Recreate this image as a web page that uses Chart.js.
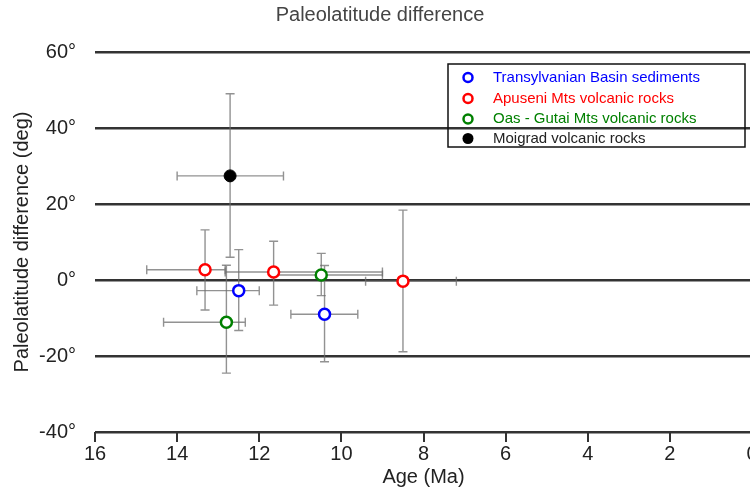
<!DOCTYPE html>
<html>
<head>
<meta charset="utf-8">
<title>Paleolatitude difference</title>
<script src="https://cdn.jsdelivr.net/npm/chart.js@4"></script>
<style>
  html, body { margin: 0; padding: 0; background: #fff; overflow: hidden; }
  /* a few px wider than the window so the "0" tick label is cut at the edge */
  #wrap { width: 760px; height: 489px; }
</style>
</head>
<body>
<div id="wrap"><canvas id="paleoChart"></canvas></div>
<script>
/* ======================================
   DATA
====================================== */
const seriesNames = [
  "Transylvanian Basin sediments",
  "Apuseni Mts volcanic rocks",
  "Oas - Gutai Mts volcanic rocks",
  "Moigrad volcanic rocks"
];
const seriesColors = ["#0000ff", "#ff0000", "#008000", "#000000"];

// Transylvanian Basin sediments
const tbAge = [12.5, 10.41];
const tbLat = [-2.8, -9.0];
const tbAgeRange = [[13.52, 12.0], [11.23, 9.6]];
const tbLatRange = [[-13.3, 8.0], [-21.5, 3.8]];

// Apuseni Mts volcanic rocks
const apAge = [13.32, 11.65, 8.5];
const apLat = [2.7, 2.1, -0.3];
const apAgeRange = [[14.74, 12.83], [12.83, 9.0], [9.41, 7.2]];
const apLatRange = [[-7.9, 13.2], [-6.6, 10.2], [-18.9, 18.4]];

// Oas - Gutai Mts volcanic rocks
const ogAge = [12.8, 10.49];
const ogLat = [-11.1, 1.3];
const ogAgeRange = [[14.33, 12.34], [11.65, 9.0]];
const ogLatRange = [[-24.5, 3.9], [-4.1, 7.0]];

// Moigrad volcanic rocks
const moAge = [12.71];
const moLat = [27.4];
const moAgeRange = [[14.0, 11.41]];
const moLatRange = [[6.0, 49.0]];

const ageTicks = [16, 14, 12, 10, 8, 6, 4, 2, 0];
const latTicks = [60, 40, 20, 0, -20, -40];

const FONT = "'Liberation Sans', Arial, sans-serif";


/* ======================================
   BUILD POINTS
====================================== */
function points(age, lat, ageRange, latRange) {
  return age.map((a, i) => ({
    x: a,
    y: lat[i],
    xMin: ageRange[i][0],
    xMax: ageRange[i][1],
    yMin: latRange[i][0],
    yMax: latRange[i][1]
  }));
}

function dataset(idx, data, filled) {
  return {
    label: seriesNames[idx],
    data: data,
    borderColor: seriesColors[idx],
    backgroundColor: filled ? seriesColors[idx] : "#ffffff",
    pointRadius: filled ? 6 : 5.5,
    pointHoverRadius: filled ? 6 : 5.5,
    pointBorderWidth: filled ? 1 : 2.5,
    showLine: false
  };
}


/* ======================================
   ERROR BARS
====================================== */
const errorBars = {
  id: "errorBars",
  beforeDatasetsDraw(chart) {
    const ctx = chart.ctx;
    const xs = chart.scales.x;
    const ys = chart.scales.y;
    const cap = 4.5;
    ctx.save();
    ctx.strokeStyle = "rgba(110,110,110,0.75)";
    ctx.lineWidth = 1.4;
    chart.data.datasets.forEach(ds => {
      ds.data.forEach(p => {
        const px = xs.getPixelForValue(p.x);
        const py = ys.getPixelForValue(p.y);
        const x0 = xs.getPixelForValue(p.xMin);
        const x1 = xs.getPixelForValue(p.xMax);
        const y0 = ys.getPixelForValue(p.yMin);
        const y1 = ys.getPixelForValue(p.yMax);
        ctx.beginPath();
        // horizontal
        ctx.moveTo(x0, py); ctx.lineTo(x1, py);
        ctx.moveTo(x0, py - cap); ctx.lineTo(x0, py + cap);
        ctx.moveTo(x1, py - cap); ctx.lineTo(x1, py + cap);
        // vertical
        ctx.moveTo(px, y0); ctx.lineTo(px, y1);
        ctx.moveTo(px - cap, y0); ctx.lineTo(px + cap, y0);
        ctx.moveTo(px - cap, y1); ctx.lineTo(px + cap, y1);
        ctx.stroke();
      });
    });
    ctx.restore();
  }
};


/* ======================================
   BOXED LEGEND
====================================== */
const boxLegend = {
  id: "boxLegend",
  afterDraw(chart) {
    const ctx = chart.ctx;
    const left = 448, top = 64, right = 745, bottom = 147;
    const rows = [77.5, 98.5, 119, 138.5];
    ctx.save();
    ctx.strokeStyle = "#111";
    ctx.lineWidth = 1.5;
    ctx.strokeRect(left, top, right - left, bottom - top);
    ctx.font = "15px " + FONT;
    ctx.textBaseline = "middle";
    chart.data.datasets.forEach((ds, i) => {
      const y = rows[i];
      ctx.beginPath();
      ctx.arc(468, y, i === 3 ? 5.5 : 4.5, 0, Math.PI * 2);
      if (i === 3) {
        ctx.fillStyle = "#000";
        ctx.fill();
      } else {
        ctx.fillStyle = "#fff";
        ctx.fill();
        ctx.lineWidth = 2.5;
        ctx.strokeStyle = seriesColors[i];
        ctx.stroke();
      }
      ctx.fillStyle = i === 3 ? "#222" : seriesColors[i];
      ctx.fillText(ds.label, 493, y);
    });
    ctx.restore();
  }
};


/* ======================================
   CHART
====================================== */
new Chart(document.getElementById("paleoChart"), {
  type: "scatter",
  data: {
    datasets: [
      dataset(0, points(tbAge, tbLat, tbAgeRange, tbLatRange), false),
      dataset(1, points(apAge, apLat, apAgeRange, apLatRange), false),
      dataset(2, points(ogAge, ogLat, ogAgeRange, ogLatRange), false),
      dataset(3, points(moAge, moLat, moAgeRange, moLatRange), true)
    ]
  },
  options: {
    responsive: true,
    maintainAspectRatio: false,
    animation: false,
    layout: { padding: 0 },
    plugins: {
      legend: { display: false },
      tooltip: { enabled: false },
      title: {
        display: true,
        text: "Paleolatitude difference",
        color: "#444",
        font: { family: FONT, size: 20, weight: "normal" },
        padding: { top: 3, bottom: 25 }
      }
    },
    scales: {
      x: {
        type: "linear",
        reverse: true,
        min: 0,
        max: 16,
        afterBuildTicks: s => { s.ticks = ageTicks.map(v => ({ value: v })); },
        afterFit: s => { s.height = 57; },
        border: { display: false },
        grid: {
          drawOnChartArea: false,
          drawTicks: true,
          tickLength: 10,
          color: "#333",
          lineWidth: 2
        },
        ticks: {
          color: "#222",
          padding: 0,
          maxRotation: 0,
          font: { family: FONT, size: 20 }
        },
        title: {
          display: true,
          text: "Age (Ma)",
          color: "#222",
          padding: { top: 0, bottom: 0 },
          font: { family: FONT, size: 20 }
        }
      },
      y: {
        type: "linear",
        min: -40,
        max: 60,
        afterBuildTicks: s => { s.ticks = latTicks.map(v => ({ value: v })); },
        afterFit: s => { s.width = 95; s.paddingTop = 0; s.paddingBottom = 0; },
        border: { display: false },
        grid: {
          drawTicks: false,
          color: "#333",
          lineWidth: 2.5
        },
        ticks: {
          color: "#222",
          padding: 19,
          callback: v => v + "\u00b0",
          font: { family: FONT, size: 20 }
        },
        title: {
          display: true,
          text: "Paleolatitude difference (deg)",
          color: "#222",
          padding: { top: 10, bottom: 0 },
          font: { family: FONT, size: 20 }
        }
      }
    }
  },
  plugins: [errorBars, boxLegend]
});
</script>
</body>
</html>
